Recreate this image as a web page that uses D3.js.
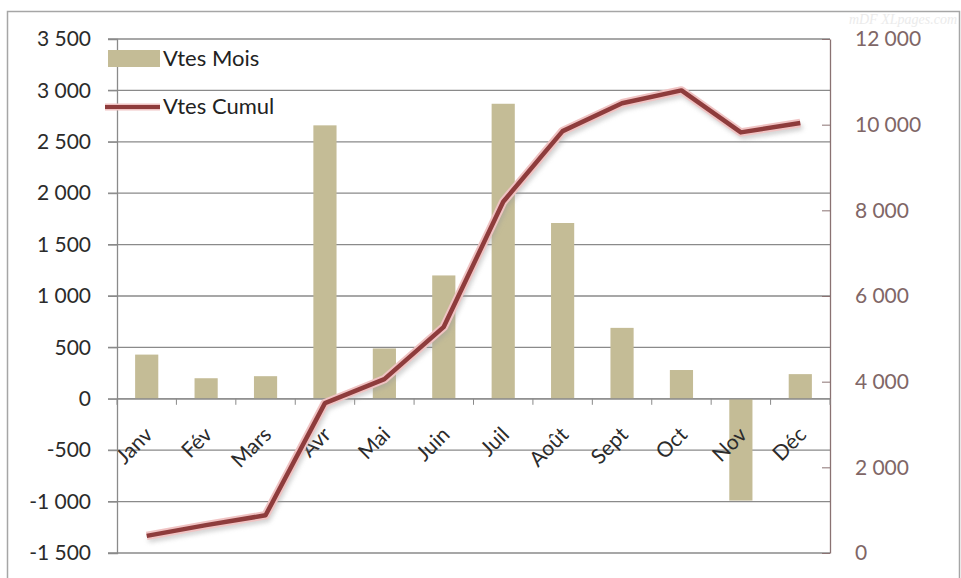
<!DOCTYPE html>
<html><head><meta charset="utf-8">
<script src="https://cdn.jsdelivr.net/npm/d3@7"></script>
<style>
html,body{margin:0;padding:0;background:#fff;}
svg{display:block;font-family:Lato,"Open Sans",sans-serif;}
</style></head>
<body>
<svg id="c" width="961" height="578"></svg>
<script>
const categories = ["Janv","Fév","Mars","Avr","Mai","Juin","Juil","Août","Sept","Oct","Nov","Déc"];
const ventesMois = [430, 200, 220, 2660, 490, 1200, 2870, 1710, 690, 280, -990, 240];
const ventesCumul = [400, 650, 880, 3500, 4060, 5280, 8200, 9850, 10500, 10800, 9820, 10040];
const leftTicks = [-1500, -1000, -500, 0, 500, 1000, 1500, 2000, 2500, 3000, 3500];
const rightTicks = [0, 2000, 4000, 6000, 8000, 10000, 12000];
const seriesNames = ["Vtes Mois", "Vtes Cumul"];

const svg = d3.select("#c");
const L = 117, R = 830, T = 39, B = 553;
const fr = d3.formatLocale({decimal:",", thousands:"\u202f", grouping:[3], currency:["","€"], minus:"-"}).format(",d");

const x = d3.scaleBand().domain(categories).range([L, R]).padding(0);
const yL = d3.scaleLinear().domain([-1500, 3500]).range([B, T]);
const yR = d3.scaleLinear().domain([0, 12000]).range([B, T]);

// outer frame
svg.append("rect").attr("x", 7.5).attr("y", 11.5).attr("width", 952).attr("height", 580)
  .attr("fill", "#fff").attr("stroke", "#a6a6a6").attr("stroke-width", 1.5);

// watermark
svg.append("text").attr("x", 957).attr("y", 24).attr("text-anchor", "end")
  .attr("font-family", "'Liberation Serif',serif").attr("font-style", "italic").attr("font-size", 14)
  .attr("fill", "#ebebeb").text("mDF XLpages.com");

// gridlines
svg.append("g").selectAll("line").data(leftTicks).join("line")
  .attr("x1", L - 9).attr("x2", R).attr("y1", d => yL(d)).attr("y2", d => yL(d))
  .attr("stroke", "#8a8a8a").attr("stroke-width", 1.3);

// left axis
const gL = svg.append("g").attr("transform", `translate(${L},0)`)
  .call(d3.axisLeft(yL).tickValues(leftTicks).tickFormat(fr).tickSize(9).tickPadding(17));
gL.select(".domain").attr("stroke", "#8a8a8a").attr("stroke-width", 1.3);
gL.selectAll(".tick line").attr("stroke", "#8a8a8a");
gL.selectAll(".tick text").attr("fill", "#2b2b2b").attr("font-size", 21).attr("font-family", "Lato,sans-serif");

// right axis
const gR = svg.append("g").attr("transform", `translate(${R},0)`)
  .call(d3.axisRight(yR).tickValues(rightTicks).tickFormat(fr).tickSizeInner(-8).tickSizeOuter(0).tickPadding(25));
gR.select(".domain").attr("stroke", "#8a7272").attr("stroke-width", 1.3);
gR.selectAll(".tick line").attr("stroke", "#8a7272");
gR.selectAll(".tick text").attr("fill", "#806666").attr("font-size", 21).attr("font-family", "Lato,sans-serif").attr("text-anchor", "start");

// bars
const bw = x.bandwidth() * 0.39;
svg.append("g").selectAll("rect").data(categories).join("rect")
  .attr("x", (d) => x(d) + (x.bandwidth() - bw) / 2)
  .attr("width", bw)
  .attr("y", (d, i) => Math.min(yL(ventesMois[i]), yL(0)))
  .attr("height", (d, i) => Math.abs(yL(ventesMois[i]) - yL(0)))
  .attr("fill", "#c4bc96");

// category axis at zero
const gX = svg.append("g").attr("transform", `translate(0,${yL(0)})`);
gX.append("line").attr("x1", L).attr("x2", R).attr("stroke", "#8a8a8a").attr("stroke-width", 1.3);
gX.selectAll("line.t").data(d3.range(13)).join("line").attr("class", "t")
  .attr("x1", i => L + i * x.step()).attr("x2", i => L + i * x.step())
  .attr("y1", 0).attr("y2", 6).attr("stroke", "#8a8a8a");
gX.selectAll("text").data(categories).join("text")
  .attr("transform", d => `translate(${x(d) + x.bandwidth() / 2 + 2},32) rotate(-45)`)
  .attr("text-anchor", "end").attr("dy", "0.35em")
  .attr("font-size", 21).attr("fill", "#2b2b2b").text(d => d);

// cumulative line with glow and shadow
const defs = svg.append("defs");
const f = defs.append("filter").attr("id", "sh").attr("x", "-10%").attr("y", "-10%").attr("width", "120%").attr("height", "120%");
f.append("feGaussianBlur").attr("stdDeviation", 2.5);
const line = d3.line().x((d, i) => x(categories[i]) + x.bandwidth() / 2).y(d => yR(d));
svg.append("path").datum(ventesCumul).attr("d", line).attr("fill", "none")
  .attr("stroke", "#9a9a9a").attr("stroke-width", 5).attr("opacity", 0.55)
  .attr("transform", "translate(2,4)").attr("filter", "url(#sh)");
svg.append("path").datum(ventesCumul).attr("d", line).attr("fill", "none")
  .attr("stroke", "#f0c3c3").attr("stroke-width", 8.5).attr("stroke-linejoin", "round");
svg.append("path").datum(ventesCumul).attr("d", line).attr("fill", "none")
  .attr("stroke", "#8e3c3c").attr("stroke-width", 4.5).attr("stroke-linejoin", "round");

// legend
const lg = svg.append("g");
lg.append("rect").attr("x", 108).attr("y", 50).attr("width", 52).attr("height", 17).attr("fill", "#c4bc96");
lg.append("text").attr("x", 163).attr("y", 58).attr("dy", "0.35em").attr("font-size", 22).attr("fill", "#222").text(seriesNames[0]);
lg.append("line").attr("x1", 105).attr("x2", 160).attr("y1", 107).attr("y2", 107)
  .attr("stroke", "#f0c3c3").attr("stroke-width", 7);
lg.append("line").attr("x1", 105).attr("x2", 160).attr("y1", 107).attr("y2", 107)
  .attr("stroke", "#8e3c3c").attr("stroke-width", 4);
lg.append("text").attr("x", 163).attr("y", 106).attr("dy", "0.35em").attr("font-size", 22).attr("fill", "#222").text(seriesNames[1]);
</script>
</body></html>
